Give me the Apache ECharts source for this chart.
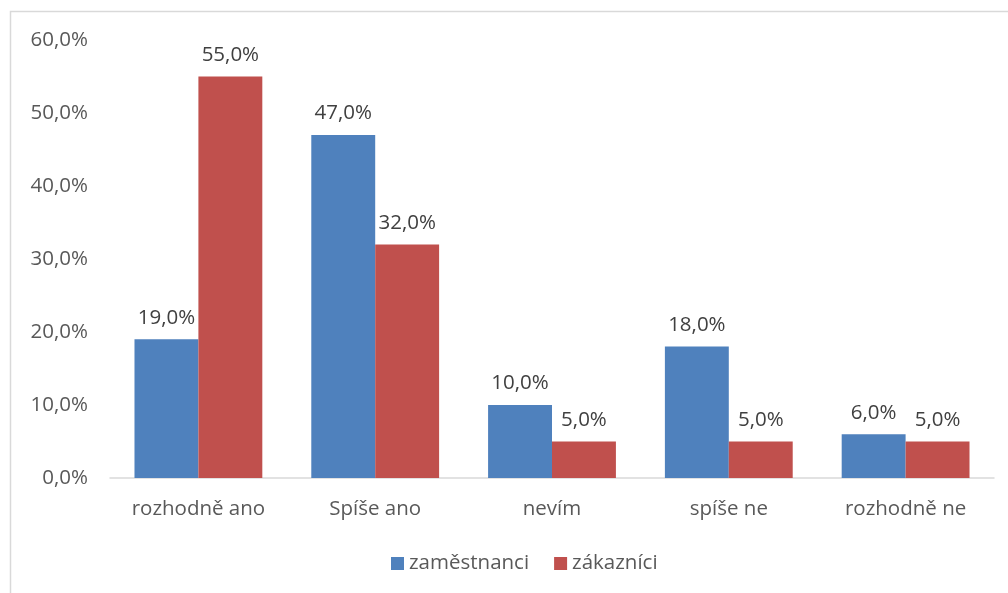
<!DOCTYPE html>
<html><head><meta charset="utf-8">
<script src="https://cdn.jsdelivr.net/npm/echarts@6/dist/echarts.min.js"></script>
<style>html,body{margin:0;padding:0;background:#fff}#c{width:1008px;height:593px}</style>
</head><body><div id="c"></div>
<script>
const categories = ['rozhodně ano', 'Spíše ano', 'nevím', 'spíše ne', 'rozhodně ne'];
const zamestnanci = [19, 47, 10, 18, 6];
const zakaznici = [55, 32, 5, 5, 5];
const seriesNames = ['zaměstnanci', 'zákazníci'];
const FONT = 'Open Sans';
const FS = 20.5;
const fmt = v => v.toFixed(1).replace('.', ',') + '%';
const chart = echarts.init(document.getElementById('c'));
const lbl = {show: true, position: 'top', distance: 11, color: '#404040', fontSize: FS, fontFamily: FONT, formatter: p => fmt(p.value)};
chart.setOption({
  animation: false,
  graphic: [{type: 'rect', shape: {x: 10.5, y: 11.5, width: 1020, height: 620}, style: {fill: 'none', stroke: '#d9d9d9', lineWidth: 1.5}, silent: true}],
  grid: {left: 110, right: 14, top: 40, bottom: 115},
  legend: {bottom: 14, left: 386, itemWidth: 13, itemHeight: 13, itemGap: 25, itemTextGap: 6, icon: 'rect',
    textStyle: {color: '#595959', fontSize: FS, fontFamily: FONT}, data: seriesNames},
  xAxis: {type: 'category', data: categories,
    axisLine: {lineStyle: {color: '#d9d9d9', width: 1.5}}, axisTick: {show: false},
    axisLabel: {color: '#595959', fontSize: FS, fontFamily: FONT, margin: 21}},
  yAxis: {type: 'value', min: 0, max: 60, interval: 10,
    splitLine: {show: false}, axisLine: {show: false}, axisTick: {show: false},
    axisLabel: {color: '#595959', fontSize: FS, fontFamily: FONT, margin: 22, formatter: v => fmt(v)}},
  series: [
    {name: seriesNames[0], type: 'bar', data: zamestnanci, barGap: '0%', barCategoryGap: '27.7%', itemStyle: {color: '#4f81bd'}, label: lbl},
    {name: seriesNames[1], type: 'bar', data: zakaznici, itemStyle: {color: '#c0504d'}, label: lbl}
  ]
});
</script></body></html>
